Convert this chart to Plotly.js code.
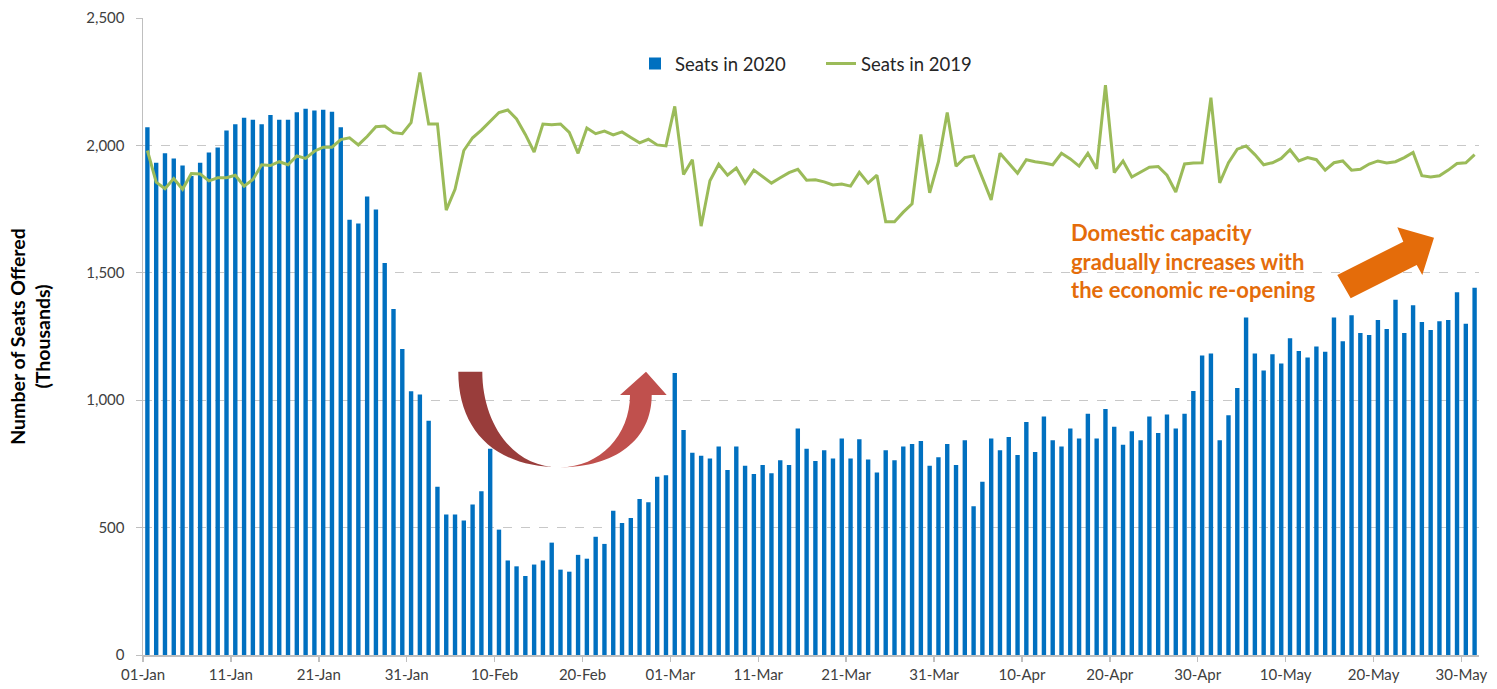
<!DOCTYPE html>
<html>
<head>
<meta charset="utf-8">
<script src="https://cdn.plot.ly/plotly-3.0.1.min.js"></script>
<style>html,body{margin:0;padding:0;background:#fff;}#chart{width:1497px;height:689px;}</style>
</head>
<body>
<div id="chart"></div>
<script>
// Daily seats offered (thousands), 01-Jan to 31-May
const seats2020 = [
  2071,1932,1969,1949,1921,1880,1932,1972,1992,2058,
  2083,2109,2101,2083,2119,2101,2101,2130,2144,2137,
  2140,2132,2071,1708,1693,1799,1748,1538,1358,1201,
  1035,1022,919,660,551,551,528,591,643,809,
  492,371,348,310,355,371,441,335,327,393,
  378,464,436,566,518,538,612,599,700,705,
  1107,883,794,782,771,818,726,818,743,710,
  746,713,764,746,889,809,761,804,771,850,
  771,847,767,716,804,764,818,828,840,743,
  776,828,746,843,584,680,850,804,856,785,
  914,797,936,843,818,889,850,947,850,965,
  896,825,878,843,936,871,944,889,947,1036,
  1175,1183,843,941,1048,1325,1183,1117,1180,1144,
  1243,1193,1168,1211,1190,1325,1231,1333,1264,1256,
  1315,1279,1394,1264,1373,1307,1276,1310,1315,1424,
  1300,1441
];
const seats2019 = [
  1980,1856,1830,1870,1828,1890,1888,1861,1873,1873,
  1883,1840,1866,1924,1921,1936,1924,1959,1949,1977,
  1993,1993,2023,2030,2002,2035,2073,2076,2050,2046,
  2089,2286,2084,2084,1746,1828,1980,2030,2060,2095,
  2129,2139,2104,2043,1974,2084,2081,2084,2051,1969,
  2068,2046,2056,2041,2053,2031,2010,2024,2002,1998,
  2153,1886,1944,1683,1861,1926,1883,1911,1852,1903,
  1878,1852,1873,1893,1906,1863,1865,1857,1845,1848,
  1840,1894,1852,1883,1700,1700,1738,1771,2043,1814,
  1936,2129,1918,1952,1959,1873,1786,1969,1932,1891,
  1944,1936,1931,1924,1969,1947,1919,1969,1908,2236,
  1893,1939,1876,1894,1914,1917,1883,1817,1927,1931,
  1932,2187,1853,1932,1985,1998,1964,1924,1932,1949,
  1983,1939,1952,1944,1903,1932,1939,1903,1906,1927,
  1939,1931,1936,1952,1972,1881,1876,1881,1903,1929,
  1932,1964
];
const tickLabels = ['01-Jan','11-Jan','21-Jan','31-Jan','10-Feb','20-Feb','01-Mar','11-Mar',
  '21-Mar','31-Mar','10-Apr','20-Apr','30-Apr','10-May','20-May','30-May'];
const tickDayIndex = [0,10,20,30,40,50,60,70,80,90,100,110,120,130,140,150];

// category labels for each day
const monthNames = ['Jan','Feb','Mar','Apr','May'];
const monthDays = [31,29,31,30,31];
const days = [];
monthNames.forEach((m,k)=>{ for(let d=1; d<=monthDays[k]; d++){ days.push(String(d).padStart(2,'0')+'-'+m); } });
const xIdx = days.map((_,i)=>i);

// geometry helpers for decorative shapes (pixel -> axis coords)
const L = 143, T = 18, PW = 1497-143-18, PH = 689-18-34;
const N = days.length;
function P(px, py){
  const x = (px - L) / PW * N - 0.5;
  const y = (T + PH - py) / PH * 2500;
  return x.toFixed(3) + ',' + y.toFixed(2);
}
const redLeft = 'M' + P(458.3,371.7) + ' L' + P(482.3,371.7) +
  ' C' + P(482.3,420) + ' ' + P(510,467.3) + ' ' + P(560,467.3) +
  ' C' + P(495,467.3) + ' ' + P(458.3,430) + ' ' + P(458.3,371.7) + ' Z';
const redRight = 'M' + P(560,467.3) +
  ' C' + P(615,467.3) + ' ' + P(651.7,440) + ' ' + P(651.7,395) +
  ' L' + P(666.7,395) + ' L' + P(646,371.7) + ' L' + P(620,395) + ' L' + P(630,395) +
  ' C' + P(630,435) + ' ' + P(600,467.3) + ' ' + P(560,467.3) + ' Z';
const orangeArrow = 'M' + P(1337.3,275) + ' L' + P(1403.3,241.7) + ' L' + P(1397.3,227.3) +
  ' L' + P(1434,237.7) + ' L' + P(1422.3,275) + ' L' + P(1416.7,265) + ' L' + P(1350.7,298.3) + ' Z';

const traces = [
  {
    type: 'bar', name: 'Seats in 2020', x: xIdx, y: seats2020, customdata: days,
    textposition: 'none',
    hovertemplate: '%{customdata}: %{y}<extra></extra>',
    marker: {color: '#0070C0'}, width: 0.5
  },
  {
    type: 'scatter', mode: 'lines', name: 'Seats in 2019', x: xIdx, y: seats2019, customdata: days,
    hovertemplate: '%{customdata}: %{y}<extra></extra>',
    line: {color: '#9BBB59', width: 3}
  }
];

const layout = {
  width: 1497, height: 689,
  margin: {l: L, r: 18, t: T, b: 34, pad: 0},
  paper_bgcolor: '#ffffff', plot_bgcolor: '#ffffff',
  font: {family: 'Lato, "Open Sans", sans-serif', size: 15, color: '#404040'},
  showlegend: true,
  legend: {
    orientation: 'h', x: (635 - L) / PW, y: 0.928, xanchor: 'left', yanchor: 'middle',
    entrywidth: 141, entrywidthmode: 'pixels',
    font: {size: 18.5, color: '#262626'}, bgcolor: 'rgba(0,0,0,0)', traceorder: 'normal'
  },
  xaxis: {
    type: 'linear', range: [-0.5, N - 0.5],
    tickmode: 'array', tickvals: tickDayIndex.map(v=>v-0.5), ticktext: tickLabels,
    showgrid: false, zeroline: false,
    showline: true, linecolor: '#BFBFBF', linewidth: 1.5,
    ticks: 'outside', ticklen: 5, tickcolor: '#BFBFBF', tickwidth: 1.5,
    tickfont: {size: 15, color: '#404040'}, fixedrange: true
  },
  yaxis: {
    range: [0, 2500], dtick: 500, tick0: 0, tickformat: ',d',
    showgrid: true, gridcolor: '#C8C8C8', griddash: 'dash', gridwidth: 1,
    zeroline: false, showline: true, linecolor: '#BFBFBF', linewidth: 1.5,
    ticks: 'outside', ticklen: 6, tickcolor: '#BFBFBF', tickwidth: 1,
    ticklabelstandoff: 8,
    tickfont: {size: 15, color: '#404040'},
    title: {text: '<b>Number of Seats Offered<br>(Thousands)</b>', font: {size: 19.5, color: '#000000'}, standoff: 30},
    automargin: false, fixedrange: true
  },
  bargap: 0.5,
  shapes: [
    {type: 'path', xref: 'x', yref: 'y', path: redLeft, fillcolor: '#993D3B', line: {width: 0}, layer: 'above'},
    {type: 'path', xref: 'x', yref: 'y', path: redRight, fillcolor: '#C0504D', line: {width: 0}, layer: 'above'},
    {type: 'path', xref: 'x', yref: 'y', path: orangeArrow, fillcolor: '#E46C0A', line: {width: 0}, layer: 'above'}
  ],
  annotations: [
    {
      xref: 'paper', yref: 'paper', x: (1069 - L) / PW, y: (T + PH - 261) / PH,
      xanchor: 'left', yanchor: 'middle', align: 'left', showarrow: false,
      text: '<b>Domestic capacity<br>gradually increases with<br>the economic re-opening</b>',
      font: {family: 'Lato, "Open Sans", sans-serif', size: 22, color: '#E46C0A'}
    }
  ]
};

Plotly.newPlot('chart', traces, layout, {displayModeBar: false, staticPlot: true});
</script>
</body>
</html>
